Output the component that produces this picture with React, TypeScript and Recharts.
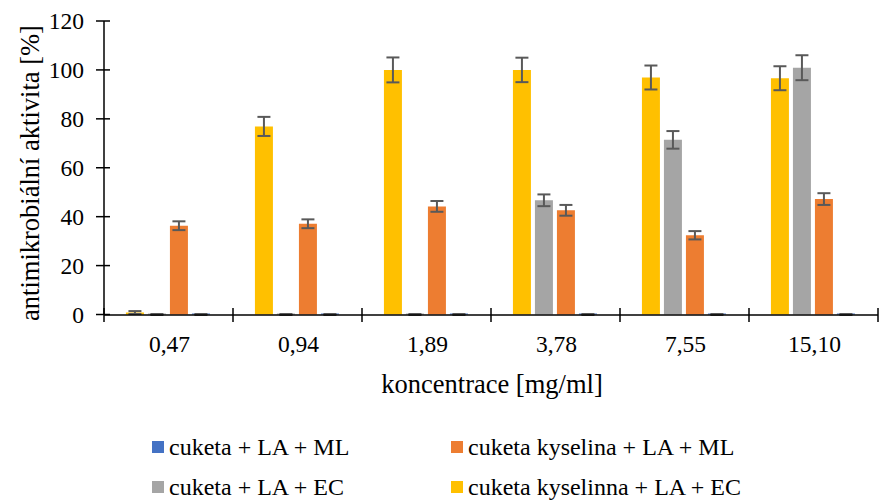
import React from "react";
import { BarChart, Bar, XAxis, YAxis, ErrorBar } from "recharts";

const categories = ["0,47", "0,94", "1,89", "3,78", "7,55", "15,10"];

// cuketa kyselinna + LA + EC
const kysEC = [0.8, 76.9, 100, 100, 96.9, 96.6];
const kysECErr = [0.6, 3.9, 5.1, 5.0, 4.9, 4.9];
// cuketa + LA + EC
const cukEC = [0, 0, 0, 46.7, 71.4, 100.9];
const cukECErr = [0.2, 0.2, 0.2, 2.4, 3.6, 5.1];
// cuketa kyselina + LA + ML
const kysML = [36.3, 37.1, 44.2, 42.6, 32.4, 47.2];
const kysMLErr = [1.8, 1.8, 2.2, 2.2, 1.7, 2.4];
// cuketa + LA + ML
const cukML = [0, 0, 0, 0, 0, 0];
const cukMLErr = [0.2, 0.2, 0.2, 0.2, 0.2, 0.2];

const yTicks = [0, 20, 40, 60, 80, 100, 120];

const legendItems = [
  { label: "cuketa + LA + ML", color: "#4472C4" },
  { label: "cuketa kyselina + LA + ML", color: "#ED7D31" },
  { label: "cuketa + LA + EC", color: "#A5A5A5" },
  { label: "cuketa kyselinna + LA + EC", color: "#FFC000" },
];

const data = categories.map((name, i) => ({
  name,
  kysEC: kysEC[i],
  kysECErr: kysECErr[i],
  cukEC: cukEC[i],
  cukECErr: cukECErr[i],
  kysML: kysML[i],
  kysMLErr: kysMLErr[i],
  cukML: cukML[i],
  cukMLErr: cukMLErr[i],
}));

const FONT = "Liberation Serif, Times New Roman, serif";
const TICK_FS = 23.5;
const TITLE_FS = 26.5;
const LEGEND_FS = 24;
const AXIS_X = 104;
const AXIS_Y = 315;
const BAND = 129;

function YTick(props: any) {
  const { y, payload } = props;
  return (
    <g>
      <line x1={AXIS_X - 8} x2={AXIS_X + 6} y1={y} y2={y} stroke="#000" strokeWidth={1.5} />
      <text x={84} y={y} dy="0.35em" textAnchor="end" style={{ fontFamily: FONT, fontSize: TICK_FS }} fill="#000">
        {payload.value}
      </text>
    </g>
  );
}

function XTick(props: any) {
  const { x, payload, index, visibleTicksCount } = props;
  const last = index === visibleTicksCount - 1;
  return (
    <g>
      <line x1={x - BAND / 2} x2={x - BAND / 2} y1={AXIS_Y - 7} y2={AXIS_Y + 7} stroke="#000" strokeWidth={1.5} />
      {last && <line x1={x + BAND / 2} x2={x + BAND / 2} y1={AXIS_Y - 7} y2={AXIS_Y + 7} stroke="#000" strokeWidth={1.5} />}
      <text x={x + 1} y={AXIS_Y + 37} textAnchor="middle" style={{ fontFamily: FONT, fontSize: TICK_FS }} fill="#000">
        {payload.value}
      </text>
    </g>
  );
}

function YTitle() {
  return (
    <text
      x={30}
      y={173}
      transform="rotate(-90 30 173)"
      textAnchor="middle"
      dominantBaseline="central"
      style={{ fontFamily: FONT, fontSize: TITLE_FS }}
      fill="#000"
    >
      antimikrobiální aktivita [%]
    </text>
  );
}

function XTitle() {
  return (
    <text x={492} y={393} textAnchor="middle" style={{ fontFamily: FONT, fontSize: TITLE_FS }} fill="#000">
      koncentrace [mg/ml]
    </text>
  );
}

const legendPos = [
  { left: 152, top: 442 },
  { left: 451, top: 442 },
  { left: 152, top: 482 },
  { left: 451, top: 482 },
];

export default function App() {
  const err = { stroke: "#595959", strokeWidth: 2, width: 6.5 };
  return (
    <div style={{ position: "absolute", left: 0, top: 0, width: 881, height: 502, background: "#fff", fontFamily: FONT }}>
      <BarChart
        width={881}
        height={502}
        data={data}
        margin={{ top: 21, right: 3, left: 0, bottom: 107 }}
        barCategoryGap="17%"
        barGap={4}
      >
        <XAxis
          dataKey="name"
          height={80}
          interval={0}
          axisLine={{ stroke: "#000", strokeWidth: 1.5 }}
          tickLine={false}
          tick={<XTick />}
          label={<XTitle />}
        />
        <YAxis
          width={104}
          domain={[0, 120]}
          ticks={yTicks}
          interval={0}
          axisLine={{ stroke: "#000", strokeWidth: 1.5 }}
          tickLine={false}
          tick={<YTick />}
          label={<YTitle />}
        />
        <Bar dataKey="kysEC" fill="#FFC000" isAnimationActive={false}>
          <ErrorBar dataKey="kysECErr" direction="y" {...err} />
        </Bar>
        <Bar dataKey="cukEC" fill="#A5A5A5" minPointSize={1} isAnimationActive={false}>
          <ErrorBar dataKey="cukECErr" direction="y" {...err} />
        </Bar>
        <Bar dataKey="kysML" fill="#ED7D31" isAnimationActive={false}>
          <ErrorBar dataKey="kysMLErr" direction="y" {...err} />
        </Bar>
        <Bar dataKey="cukML" fill="#4472C4" minPointSize={1} isAnimationActive={false}>
          <ErrorBar dataKey="cukMLErr" direction="y" {...err} />
        </Bar>
      </BarChart>
      {legendItems.map((it, i) => (
        <div
          key={it.label}
          style={{
            position: "absolute",
            left: legendPos[i].left,
            top: legendPos[i].top - 9,
            display: "flex",
            alignItems: "center",
            fontFamily: FONT,
            fontSize: LEGEND_FS,
            lineHeight: "28px",
            whiteSpace: "nowrap",
            color: "#000",
          }}
        >
          <span style={{ display: "inline-block", width: 12, height: 12, background: it.color, marginRight: 5 }} />
          {it.label}
        </div>
      ))}
    </div>
  );
}
